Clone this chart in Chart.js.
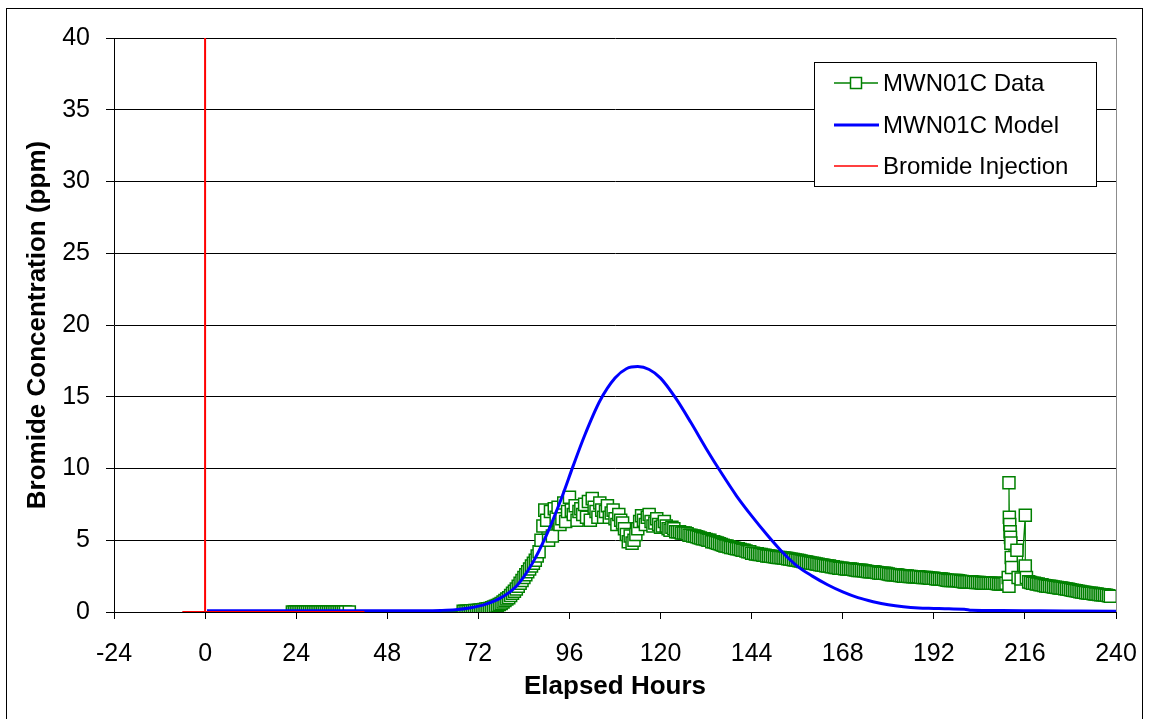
<!DOCTYPE html>
<html>
<head>
<meta charset="utf-8">
<title>Bromide Concentration - MWN01C</title>
<script src="https://cdn.jsdelivr.net/npm/chart.js"></script>
<style>
  html, body { margin: 0; padding: 0; background: #fff; }
  #chart { display: block; }
</style>
</head>
<body>
<canvas id="chart" width="1149" height="719"></canvas>
<script>
// x axis ticks: -24 .. 240 step 24, y axis 0 .. 40 step 5
var xMin = -24, xMax = 240, xStep = 24;
var yMin = 0, yMax = 40, yStep = 5;

// MWN01C Data (hours, ppm) - rows of hours and rows of values line up
var dataHours = [
	23, 23.5, 24, 24.5, 25, 25.5, 26, 26.5, 27, 27.5,
	28, 28.5, 29, 29.5, 30, 30.5, 31, 31.5, 32, 32.5,
	33, 33.5, 34, 34.5, 35, 35.5, 36, 36.5, 37, 38,
	// rise
	68, 68.5, 69, 69.5, 70, 70.5, 71, 71.5, 72, 72.5,
	73, 73.5, 74, 74.5, 75, 75.5, 76, 76.5, 77, 77.5,
	78, 78.5, 79, 79.5, 80, 80.5, 81, 81.5, 82, 82.5,
	83, 83.5, 84, 84.5, 85, 85.5, 86, 86.5, 87, 87.5,
	88,
	// peak
	88.5, 89, 89.5, 90, 90.5, 91, 91.5, 92, 92.5, 93,
	93.5, 94, 94.5, 95, 95.5, 96, 96.5, 97, 97.5, 98,
	98.5, 99, 99.5, 100, 100.5, 101, 101.5, 102, 102.5, 103,
	103.5, 104, 104.5, 105, 105.5, 106, 106.5, 107, 107.5, 108,
	108.5, 109, 109.5, 110, 110.5, 111, 111.5, 112, 112.5, 113,
	113.5, 114, 114.5, 115, 115.5, 116, 116.5, 117, 117.5, 118,
	118.5, 119, 119.5, 120, 120.5, 121, 121.5, 122, 122.5, 123,
	123.5, 124, 124.5,
	// decline
	125, 125.5, 126, 126.5, 127, 127.5, 128, 128.5, 129, 129.5,
	130, 130.5, 131, 131.5, 132, 132.5, 133, 133.5, 134, 134.5,
	135, 135.5, 136, 136.5, 137, 137.5, 138, 138.5, 139, 139.5,
	140, 140.5, 141, 141.5, 142, 142.5, 143, 143.5, 144, 144.5,
	145, 145.5, 146, 146.5, 147, 147.5, 148, 148.5, 149, 149.5,
	150, 150.5, 151, 151.5, 152, 152.5, 153, 153.5, 154, 154.5,
	155, 155.5, 156, 156.5, 157, 157.5, 158, 158.5, 159, 159.5,
	160, 160.5, 161, 161.5, 162, 162.5, 163, 163.5, 164, 164.5,
	165, 165.5, 166, 166.5, 167, 167.5, 168, 168.5, 169, 169.5,
	170, 170.5, 171, 171.5, 172, 172.5, 173, 173.5, 174, 174.5,
	175, 175.5, 176, 176.5, 177, 177.5, 178, 178.5, 179, 179.5,
	180, 180.5, 181, 181.5, 182, 182.5, 183, 183.5, 184, 184.5,
	185, 185.5, 186, 186.5, 187, 187.5, 188, 188.5, 189, 189.5,
	190, 190.5, 191, 191.5, 192, 192.5, 193, 193.5, 194, 194.5,
	195, 195.5, 196, 196.5, 197, 197.5, 198, 198.5, 199, 199.5,
	200, 200.5, 201, 201.5, 202, 202.5, 203, 203.5, 204, 204.5,
	205, 205.5, 206, 206.5, 207, 207.5, 208, 208.5, 209, 209.5,
	210, 210.5,
	// spike
	211, 211.6, 211.8, 211.9, 212, 212.1, 212.2, 212.3, 212.4, 212.5,
	211.8, 213.9, 214.2, 215, 216.1, 216.1, 216.4, 217,
	// tail
	217.5, 218, 218.5, 219, 219.5, 220, 220.5, 221, 221.5, 222,
	222.5, 223, 223.5, 224, 224.5, 225, 225.5, 226, 226.5, 227,
	227.5, 228, 228.5, 229, 229.5, 230, 230.5, 231, 231.5, 232,
	232.5, 233, 233.5, 234, 234.5, 235, 235.5, 236, 236.5, 237,
	237.5, 238, 238.5
];
var dataConc = [
	0, 0, 0, 0, 0, 0, 0, 0, 0, 0,
	0, 0, 0, 0, 0, 0, 0, 0, 0, 0,
	0, 0, 0, 0, 0, 0, 0, 0, 0, 0,
	// rise
	0.05, 0.05, 0.05, 0.06, 0.08, 0.09, 0.1, 0.11, 0.12, 0.14,
	0.15, 0.18, 0.2, 0.22, 0.25, 0.3, 0.35, 0.4, 0.45, 0.52,
	0.6, 0.7, 0.8, 0.9, 1.0, 1.15, 1.3, 1.45, 1.6, 1.8,
	2.0, 2.2, 2.4, 2.6, 2.8, 3.0, 3.2, 3.4, 3.6, 3.9,
	4.2,
	// peak
	5.0, 6.0, 7.1, 6.4, 5.0, 7.0, 5.3, 7.2, 6.6, 7.3,
	6.1, 6.5, 7.6, 6.3, 7.0, 8.0, 7.1, 6.8, 7.4, 6.4,
	7.0, 7.2, 6.8, 7.5, 6.6, 7.7, 6.4, 7.9, 7.3, 7.0,
	6.6, 7.6, 7.1, 6.6, 7.0, 7.4, 6.6, 6.9, 7.1, 6.5,
	6.1, 6.8, 6.4, 6.2, 5.8, 5.4, 4.9, 5.3, 4.8, 5.0,
	5.4, 5.8, 6.3, 6.7, 6.4, 6.1, 6.6, 6.8, 6.3, 6.0,
	6.2, 6.5, 6.1, 5.9, 6.0, 6.3, 6.0, 5.8, 5.7, 5.9,
	5.8, 5.6, 5.6,
	// decline
	5.6, 5.5, 5.5, 5.5, 5.45, 5.35, 5.35, 5.3, 5.3, 5.25,
	5.2, 5.15, 5.1, 5.1, 5.05, 5.0, 5.0, 4.9, 4.9, 4.85,
	4.8, 4.75, 4.7, 4.65, 4.6, 4.6, 4.55, 4.5, 4.5, 4.45,
	4.4, 4.4, 4.35, 4.3, 4.3, 4.25, 4.2, 4.2, 4.1, 4.1,
	4.05, 4.05, 4.0, 4.0, 3.95, 3.95, 3.9, 3.9, 3.88, 3.86,
	3.85, 3.82, 3.8, 3.8, 3.78, 3.76, 3.75, 3.72, 3.7, 3.68,
	3.65, 3.62, 3.6, 3.58, 3.55, 3.52, 3.5, 3.48, 3.45, 3.42,
	3.4, 3.38, 3.35, 3.32, 3.3, 3.28, 3.25, 3.22, 3.2, 3.2,
	3.15, 3.15, 3.1, 3.1, 3.05, 3.05, 3.05, 3.02, 3.0, 3.0,
	3.0, 2.98, 2.95, 2.92, 2.9, 2.9, 2.9, 2.88, 2.85, 2.82,
	2.8, 2.8, 2.8, 2.78, 2.75, 2.72, 2.7, 2.7, 2.7, 2.68,
	2.65, 2.62, 2.6, 2.6, 2.6, 2.58, 2.55, 2.52, 2.5, 2.5,
	2.5, 2.48, 2.48, 2.46, 2.45, 2.45, 2.45, 2.42, 2.4, 2.4,
	2.4, 2.38, 2.35, 2.35, 2.35, 2.32, 2.3, 2.3, 2.3, 2.28,
	2.25, 2.22, 2.2, 2.2, 2.2, 2.2, 2.2, 2.18, 2.15, 2.12,
	2.1, 2.1, 2.1, 2.1, 2.1, 2.08, 2.05, 2.05, 2.05, 2.02,
	2.0, 2.0, 2.0, 2.0, 2.0, 2.0, 2.0, 1.98, 1.95, 1.95,
	1.95, 1.95,
	// spike
	2.0, 2.4, 9.0, 6.6, 6.1, 5.6, 5.2, 4.8, 3.8, 3.1,
	1.8, 4.3, 2.4, 2.3, 6.75, 3.2, 2.4, 2.1,
	// tail
	2.05, 2.0, 2.0, 1.95, 1.95, 1.9, 1.9, 1.85, 1.82, 1.8,
	1.8, 1.78, 1.75, 1.72, 1.7, 1.68, 1.68, 1.65, 1.62, 1.6,
	1.58, 1.55, 1.52, 1.5, 1.48, 1.45, 1.42, 1.4, 1.38, 1.35,
	1.32, 1.3, 1.3, 1.28, 1.26, 1.25, 1.22, 1.2, 1.2, 1.18,
	1.16, 1.14, 1.1
];

// MWN01C Model (hours, ppm)
var modelHours = [0.5, 20, 40, 56, 62, 66, 70, 74, 78, 82, 86, 90, 94, 97, 100, 104, 108, 111, 114, 117,
	120, 124, 128, 132, 136, 140, 144, 148, 152, 156, 160, 164, 168, 172, 176, 180, 184, 188, 192, 196,
	200, 202, 210, 220, 230, 240];
var modelConc = [0.08, 0.08, 0.08, 0.09, 0.11, 0.16, 0.3, 0.55, 1.0, 1.8, 3.3, 5.4, 8.0, 10.2, 12.3, 14.7, 16.3, 16.95, 17.1, 16.9,
	16.3, 14.9, 13.2, 11.4, 9.7, 8.1, 6.7, 5.4, 4.2, 3.2, 2.5, 1.9, 1.4, 1.0, 0.72, 0.5, 0.36, 0.28, 0.25, 0.22,
	0.2, 0.12, 0.1, 0.08, 0.07, 0.06];

// Bromide Injection
var injectionHours = [-6, 0, 0, 0, 42];
var injectionConc = [0, 0, 40, 0, 0];

var legendLabels = ["MWN01C Data", "MWN01C Model", "Bromide Injection"];

function toPoints(xs, ys) {
	var pts = [];
	for (var i = 0; i < xs.length; i++) pts.push({ x: xs[i], y: ys[i] });
	return pts;
}

var GREEN = "#008000", BLUE = "#0000ff", RED = "#ff0000";
var FONT = "'Liberation Sans', Arial, sans-serif";

// white page + outer frame + plot right edge
var framePlugin = {
	id: "frame",
	beforeDraw: function(chart) {
		var c = chart.ctx;
		c.save();
		c.fillStyle = "#fff";
		c.fillRect(0, 0, chart.width, chart.height);
		c.strokeStyle = "#000";
		c.lineWidth = 1;
		c.strokeRect(6.5, 8.5, 1136, 720);
		c.restore();
	},
	afterDraw: function(chart) {
		var a = chart.chartArea, c = chart.ctx;
		c.save();
		c.strokeStyle = "#8c8c8c";
		c.lineWidth = 1;
		c.beginPath();
		c.moveTo(Math.round(a.right) + 0.5, a.top);
		c.lineTo(Math.round(a.right) + 0.5, a.bottom);
		c.stroke();
		c.restore();
	}
};

// legend box drawn like the Excel one
var legendPlugin = {
	id: "boxLegend",
	afterDraw: function(chart) {
		var c = chart.ctx;
		var bx = 814.5, by = 62.5, bw = 282, bh = 124;
		var rows = [83, 125, 166];
		c.save();
		c.fillStyle = "#fff";
		c.fillRect(bx, by, bw, bh);
		c.strokeStyle = "#000";
		c.lineWidth = 1;
		c.strokeRect(bx, by, bw, bh);

		// data
		c.strokeStyle = GREEN;
		c.lineWidth = 1.5;
		c.beginPath(); c.moveTo(834, rows[0]); c.lineTo(878, rows[0]); c.stroke();
		c.fillStyle = "#fff";
		c.fillRect(850.5, rows[0] - 5.5, 11, 11);
		c.strokeRect(850.5, rows[0] - 5.5, 11, 11);
		// model
		c.strokeStyle = BLUE;
		c.lineWidth = 3;
		c.beginPath(); c.moveTo(834, rows[1]); c.lineTo(879, rows[1]); c.stroke();
		// injection
		c.strokeStyle = RED;
		c.lineWidth = 1.5;
		c.beginPath(); c.moveTo(834, rows[2]); c.lineTo(878, rows[2]); c.stroke();

		c.fillStyle = "#000";
		c.font = "24px " + FONT;
		c.textBaseline = "middle";
		c.textAlign = "left";
		for (var i = 0; i < legendLabels.length; i++) {
			c.fillText(legendLabels[i], 883, rows[i] + 1);
		}
		c.restore();
	}
};

var ctx = document.getElementById("chart").getContext("2d");
new Chart(ctx, {
	type: "scatter",
	data: {
		datasets: [{
			label: legendLabels[0],
			data: toPoints(dataHours, dataConc),
			showLine: true,
			borderColor: GREEN,
			borderWidth: 1.2,
			backgroundColor: "#fff",
			pointStyle: "rect",
			pointRadius: 8.5,
			pointBorderWidth: 1.5,
			pointBorderColor: GREEN,
			pointBackgroundColor: "#fff",
			tension: 0,
			order: 3
		}, {
			label: legendLabels[1],
			data: toPoints(modelHours, modelConc),
			showLine: true,
			borderColor: BLUE,
			borderWidth: 3,
			pointRadius: 0,
			cubicInterpolationMode: "monotone",
			order: 2
		}, {
			label: legendLabels[2],
			data: toPoints(injectionHours, injectionConc),
			showLine: true,
			borderColor: RED,
			borderWidth: 2,
			pointRadius: 0,
			tension: 0,
			order: 1
		}]
	},
	options: {
		responsive: false,
		animation: false,
		events: [],
		layout: { padding: { left: 0, top: 38, right: 33, bottom: 0 } },
		plugins: {
			legend: { display: false },
			tooltip: { enabled: false }
		},
		scales: {
			x: {
				type: "linear",
				min: xMin,
				max: xMax,
				afterFit: function(scale) {
					scale.height = 107;
					scale.paddingLeft = 0;
					scale.paddingRight = 0;
				},
				ticks: {
					stepSize: xStep,
					color: "#000",
					padding: 20,
					maxRotation: 0,
					font: { family: FONT, size: 25 }
				},
				grid: {
					drawOnChartArea: false,
					drawTicks: true,
					tickLength: 7,
					color: "#000",
					lineWidth: 1
				},
				border: { display: true, color: "#000", width: 1 },
				title: {
					display: true,
					text: "Elapsed Hours",
					color: "#000",
					font: { family: FONT, size: 26, weight: "bold" },
					padding: { top: 0, bottom: 17 }
				}
			},
			y: {
				type: "linear",
				min: yMin,
				max: yMax,
				afterFit: function(scale) { scale.width = 114; },
				ticks: {
					stepSize: yStep,
					color: "#000",
					padding: 16,
					font: { family: FONT, size: 25 }
				},
				grid: {
					drawTicks: true,
					tickLength: 8,
					color: "#000",
					lineWidth: 1
				},
				border: { display: true, color: "#000", width: 1 },
				title: {
					display: true,
					text: "Bromide Concentration (ppm)",
					color: "#000",
					font: { family: FONT, size: 26, weight: "bold" },
					padding: { top: 22, bottom: 0 }
				}
			}
		}
	},
	plugins: [framePlugin, legendPlugin]
});
</script>
</body>
</html>
